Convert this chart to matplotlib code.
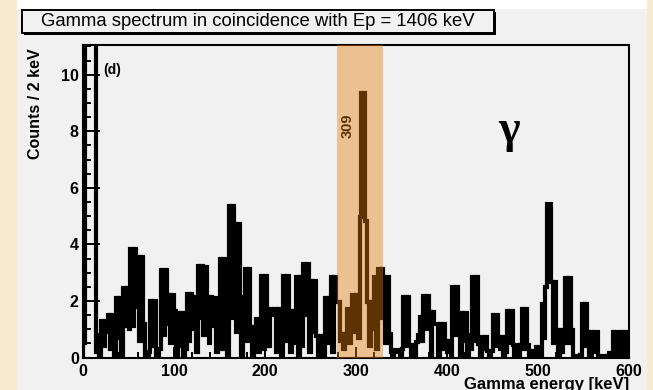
import numpy as np
import matplotlib
matplotlib.use("Agg")
import matplotlib.pyplot as plt
from matplotlib.patches import Rectangle
from matplotlib.ticker import MultipleLocator

# gamma spectrum gated on Ep = 1406 keV, 2 keV bins from 0 to 600 keV
bin_width = 2.0
counts = [
    # 0 - 40 keV
    0.5, 14, 17, 22, 18, 15, 13, 0.2, 0.8, 0.1,
    1.3, 0.4, 1.3, 0.9, 1.5, 0.3, 1.5, 0.0, 2.1, 0.7,
    # 40 - 80 keV
    2.1, 0.0, 2.45, 1.1, 2.45, 1.0, 3.85, 1.1, 3.85, 1.8,
    3.55, 0.6, 3.55, 1.2, 0.1, 0.0, 0.2, 2.0, 0.4, 2.0,
    # 80 - 120 keV
    0.1, 0.0, 0.3, 3.1, 0.8, 3.1, 1.2, 2.2, 0.5, 2.2,
    1.66, 0.1, 1.58, 0.4, 1.58, 0.1, 0.3, 2.25, 0.6, 2.25,
    # 120 - 160 keV
    1.0, 2.15, 0.2, 3.25, 1.4, 3.25, 0.8, 3.2, 2.13, 0.5,
    2.13, 1.1, 2.1, 0.2, 0.9, 3.5, 0.3, 3.5, 1.6, 0.1,
    # 160 - 200 keV
    5.35, 1.4, 5.35, 4.72, 0.9, 4.72, 2.13, 0.0, 2.13, 3.13,
    0.6, 3.13, 1.08, 0.1, 1.08, 1.37, 0.2, 1.37, 2.88, 0.3,
    # 200 - 240 keV
    2.88, 1.72, 0.4, 1.72, 1.5, 1.72, 0.2, 1.72, 1.0, 0.1,
    2.88, 0.6, 2.88, 1.64, 0.2, 1.64, 0.5, 2.84, 0.0, 2.84,
    # 240 - 280 keV
    0.4, 3.3, 1.5, 3.3, 0.2, 2.7, 0.9, 2.7, 0.76, 0.1,
    0.76, 0.4, 0.0, 2.1, 0.5, 2.1, 2.84, 0.2, 2.84, 1.95,
    # 280 - 320 keV
    1.95, 0.6, 0.83, 0.3, 0.83, 1.72, 0.5, 1.72, 2.2, 0.9,
    2.2, 0.7, 4.96, 9.35, 9.35, 4.84, 1.95, 0.4, 1.95, 1.0,
    # 320 - 360 keV
    2.84, 0.3, 3.13, 1.4, 3.13, 2.86, 0.5, 2.86, 0.84, 0.2,
    0.0, 0.25, 0.25, 0.2, 0.0, 0.3, 2.13, 0.4, 2.13, 0.43,
    # 360 - 400 keV
    0.0, 0.43, 0.1, 0.54, 0.8, 1.43, 0.6, 2.16, 1.0, 2.16,
    1.6, 0.0, 1.6, 1.2, 1.19, 0.1, 1.17, 0.3, 1.17, 0.6,
    # 400 - 440 keV
    0.2, 0.6, 0.0, 2.48, 0.8, 2.48, 1.54, 0.1, 1.57, 0.6,
    1.57, 0.0, 0.78, 0.3, 2.84, 0.6, 2.84, 0.48, 0.1, 0.72,
    # 440 - 480 keV
    0.3, 0.72, 0.24, 0.0, 0.24, 1.52, 0.4, 1.52, 0.72, 0.3,
    0.72, 0.0, 0.2, 1.66, 0.5, 1.66, 0.43, 0.0, 0.43, 0.1,
    # 480 - 520 keV
    0.43, 1.71, 0.3, 1.71, 0.43, 0.0, 0.24, 0.24, 0.0, 0.37,
    0.37, 0.0, 1.9, 0.7, 2.48, 5.43, 5.43, 2.66, 0.5, 2.66,
    # 520 - 560 keV
    0.96, 0.1, 0.96, 0.2, 0.96, 2.82, 0.5, 2.82, 0.96, 0.0,
    0.07, 0.07, 0.0, 0.1, 1.9, 0.4, 1.9, 0.9, 0.1, 0.9,
    # 560 - 600 keV
    0.2, 0.9, 0.9, 0.05, 0.05, 0.05, 0.05, 0.05, 0.05, 0.15,
    0.05, 0.9, 0.1, 0.9, 0.9, 0.05, 0.9, 0.1, 0.9, 0.9,
]
edges = np.arange(len(counts) + 1) * bin_width

gate_lo, gate_hi = 279, 330
peak_label = "309"

W, H = 653, 390
fig = plt.figure(figsize=(W / 100, H / 100), dpi=100, facecolor="#f9ebcf")

# page background: grey panel with a white strip on top
fig.patches.append(Rectangle((17 / W, 0), 630 / W, 1, transform=fig.transFigure,
                             facecolor="#f1f1f1", edgecolor="none", zorder=-2))
fig.patches.append(Rectangle((17 / W, 1 - 9 / H), 630 / W, 9 / H, transform=fig.transFigure,
                             facecolor="white", edgecolor="none", zorder=-1))

ax = fig.add_axes([83 / W, 32.5 / H, 546 / W, 312.5 / H])
ax.set_facecolor("#f1f1f1")

ax.stairs(counts, edges, color="black", lw=3.0, zorder=3,
          joinstyle="miter", capstyle="butt")

ax.axvspan(gate_lo, gate_hi, color="#e87a0c", alpha=0.41, lw=0, zorder=5)
ax.text(290.5, 8.2, peak_label, rotation=90, ha="center", va="center",
        fontsize=10.5, fontweight="bold", family="Liberation Sans", color="black", zorder=4)

ax.set_xlim(0, 600)
ax.set_ylim(0, 11.05)
ax.xaxis.set_major_locator(MultipleLocator(100))
ax.xaxis.set_minor_locator(MultipleLocator(20))
ax.yaxis.set_major_locator(MultipleLocator(2))
ax.yaxis.set_minor_locator(MultipleLocator(0.5))
ax.tick_params(which="both", direction="in", top=False, right=False, width=1.4, color="black")
ax.tick_params(axis="y", which="major", length=12, pad=3)
ax.tick_params(axis="y", which="minor", length=6)
ax.tick_params(axis="x", which="major", length=8, pad=5)
ax.tick_params(axis="x", which="minor", length=4)
for lab in ax.get_xticklabels() + ax.get_yticklabels():
    lab.set_fontfamily("Liberation Sans")
    lab.set_fontweight("bold")
    lab.set_fontsize(11.5)
for sp in ax.spines.values():
    sp.set_linewidth(1.5)

ax.text(0.037, 0.92, "(d)", transform=ax.transAxes, fontsize=10,
        fontweight="bold", family="Liberation Sans", va="center", ha="left")
fig.text(508.5 / W, 1 - 142 / H, "\u03b3", fontsize=33, family="Liberation Serif",
         fontweight="bold", ha="center", va="baseline")

fig.text(35 / W, 1 - 48 / H, "Counts / 2 keV", rotation=90, ha="center", va="top",
         fontsize=11.5, fontweight="bold", family="Liberation Sans")
fig.text(629 / W, 1 - 377 / H, "Gamma energy [keV]", ha="right", va="top",
         fontsize=12, fontweight="bold", family="Liberation Sans")

# title pave with a drop shadow
fig.patches.append(Rectangle((24 / W, 1 - 35 / H), 472 / W, 23 / H, transform=fig.transFigure,
                             facecolor="black", edgecolor="none", zorder=1))
fig.patches.append(Rectangle((22 / W, 1 - 33 / H), 472 / W, 23 / H, transform=fig.transFigure,
                             facecolor="#f1f1f1", edgecolor="black", lw=1.4, zorder=2))
fig.text(258 / W, 1 - 21.5 / H, "Gamma spectrum in coincidence with Ep = 1406 keV",
         ha="center", va="center", fontsize=13.3, family="Liberation Sans", zorder=3)

fig.savefig("out.png", dpi=100, facecolor=fig.get_facecolor())
